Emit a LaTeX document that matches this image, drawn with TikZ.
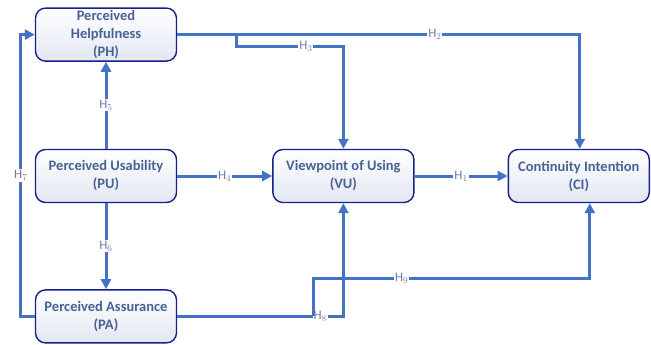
\documentclass[tikz,border=0pt]{standalone}
\usepackage{fontspec}
\setmainfont{Carlito}
\usepackage{tikz}
\usetikzlibrary{positioning,arrows.meta,calc}
\definecolor{cvline}{RGB}{68,114,196}
\definecolor{cvedge}{RGB}{22,32,140}
\definecolor{cvtext}{RGB}{72,98,150}
\definecolor{cvlabel}{RGB}{110,125,160}
\definecolor{cvshade}{RGB}{226,231,241}
\tikzset{
  construct/.style={rounded corners=10pt, draw=cvedge, line width=1.4pt, top color=white, bottom color=cvshade, align=center, minimum width=141pt, minimum height=53pt, inner sep=2pt, text=cvtext, font=\fontsize{14.5}{18}\selectfont\bfseries},
  hyp/.style={-{Triangle[length=10pt,width=10pt]}, line width=3pt, draw=cvline},
  hlabel/.style={fill=white, inner sep=1pt, text=cvlabel, font=\fontsize{13}{15}\selectfont},
}
\begin{document}
\begin{tikzpicture}[x=1pt,y=-1pt]
    \useasboundingbox (0,0) rectangle (651,345);
    \node[construct] (pu) at (106,176) {Perceived Usability\\(PU)};
    \node[construct, above=87pt of pu] (ph) {Perceived\\Helpfulness\\(PH)};
    \node[construct, below=86pt of pu] (pa) {Perceived Assurance\\(PA)};
    \node[construct, right=95pt of pu] (vu) {Viewpoint of Using\\(VU)};
    \node[construct, right=93pt of vu] (ci) {Continuity Intention\\(CI)};
    % hypotheses
    \draw[hyp] (vu) -- node[hlabel]{H$_1$} (ci);
    \draw[hyp] (pu) -- node[hlabel]{H$_4$} (vu);
    \draw[hyp] (pu) -- node[hlabel]{H$_5$} (ph);
    \draw[hyp] (pu) -- node[hlabel]{H$_6$} (pa);
    \draw[hyp] (pa.west) -- ++(-14,0) |- node[hlabel,pos=0.25]{H$_7$} (ph.west);
    \draw[hyp] (ph.east) -| node[hlabel,pos=0.32]{H$_2$} ([xshift=1pt]ci.north);
    \draw[hyp] ([xshift=59pt]ph.east) -- ++(0,12) -| node[hlabel,pos=0.325]{H$_3$} (vu.north);
    \draw[hyp] (pa.east) -| node[hlabel,pos=0.43]{H$_8$} (vu.south);
    \draw[hyp] ([xshift=136pt]pa.east) -- ++(0,-38) coordinate (h9) -| node[hlabel,pos=0.16]{H$_9$} ([xshift=11pt]ci.south);
    \fill[cvline] (h9 -| vu.south) circle (2.5pt);
\end{tikzpicture}
\end{document}
